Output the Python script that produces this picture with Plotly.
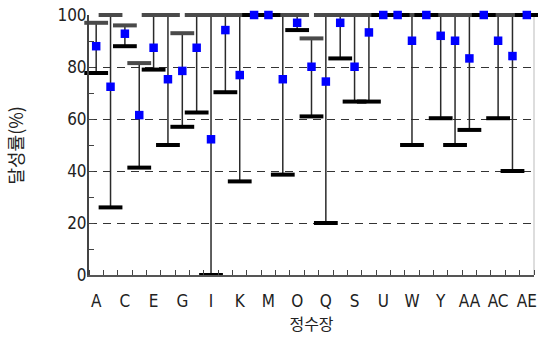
import plotly.graph_objects as go

categories = ['A','B','C','D','E','F','G','H','I','J','K','L','M','N','O','P','Q','R',
              'S','T','U','V','W','X','Y','Z','AA','AB','AC','AD','AE']
max_vals = [97, 100, 96, 81.5, 100, 100, 93, 100, 100, 100, 100, 100, 100, 100, 100, 91,
            100, 100, 100, 100, 100, 100, 100, 100, 100, 100, 100, 100, 100, 100, 100]
min_vals = [77.7, 26, 88, 41.3, 79, 50, 57, 62.5, 0, 70.3, 36, 100, 100, 38.6, 94.2, 61,
            20, 83.3, 66.7, 66.7, 100, 100, 50, 100, 60.3, 50, 55.8, 100, 60.3, 40, 100]
mean_vals = [88, 72.4, 92.8, 61.5, 87.4, 75.3, 78.5, 87.4, 52.2, 94.2, 76.9, 100, 100, 75.3,
             97, 80.1, 74.4, 97, 80.1, 93.3, 100, 100, 90.1, 100, 92, 90.1, 83.3, 100, 90.1,
             84.2, 100]
y_ticks = [0, 20, 40, 60, 80, 100]

xs = list(range(len(categories)))

stem_x, stem_y = [], []
for i, lo, hi in zip(xs, min_vals, max_vals):
    stem_x += [i, i, None]
    stem_y += [lo, hi, None]

fig = go.Figure()
fig.add_trace(go.Scatter(x=stem_x, y=stem_y, mode='lines',
                         line=dict(color='#2a2a2a', width=1.5),
                         hoverinfo='skip', showlegend=False, cliponaxis=False))
fig.add_trace(go.Scatter(x=xs, y=max_vals, mode='markers',
                         marker=dict(symbol='line-ew', size=17,
                                     line=dict(color='#4a4a4a', width=4)),
                         showlegend=False, cliponaxis=False))
fig.add_trace(go.Scatter(x=xs, y=min_vals, mode='markers',
                         marker=dict(symbol='line-ew', size=17,
                                     line=dict(color='#000000', width=4)),
                         showlegend=False, cliponaxis=False))
fig.add_trace(go.Scatter(x=xs, y=mean_vals, mode='markers',
                         marker=dict(symbol='square', size=8.5, color='#0000ff',
                                     line=dict(width=0)),
                         showlegend=False, cliponaxis=False))

tick_font = dict(family='Liberation Sans Narrow, DejaVu Sans Condensed, Liberation Sans, Arial',
                 size=17, color='#222')

fig.update_layout(
    width=538, height=338,
    margin=dict(l=89, r=1, t=15, b=63),
    paper_bgcolor='white', plot_bgcolor='white',
    xaxis=dict(
        range=[-0.5, len(categories) - 0.5],
        tickvals=xs[::2], ticktext=categories[::2],
        ticks='', showgrid=False, zeroline=False,
        showline=True, linecolor='#555', linewidth=2,
        minor=dict(ticks='inside', tick0=0.5, dtick=1, ticklen=5,
                   tickcolor='#444', tickwidth=1, showgrid=False),
        tickfont=tick_font, ticklabelstandoff=10, ticklabeloverflow='allow',
        title=dict(text='정수장', font=dict(family='Noto Sans CJK KR', size=16, color='#222'),
                   standoff=3),
    ),
    yaxis=dict(
        range=[0, 100], tickvals=y_ticks,
        ticks='inside', ticklen=5, tickcolor='#444', tickwidth=1,
        minor=dict(ticks='inside', dtick=10, ticklen=5, tickcolor='#444',
                   tickwidth=1, showgrid=False),
        showgrid=True, gridcolor='#333', gridwidth=1, griddash='8px,6px',
        zeroline=False, showline=True, linecolor='#444', linewidth=2,
        tickfont=tick_font, ticklabelstandoff=-3, ticklabeloverflow='allow',
    ),
    annotations=[dict(text='달성률(%)', xref='paper', yref='paper', x=-74 / 448, y=0.5,
                      xanchor='center', yanchor='middle', textangle=-90, showarrow=False,
                      font=dict(family='Noto Sans CJK KR', size=18, color='#222'))],
    shapes=[dict(type='line', xref='paper', yref='paper', x0=1, x1=1, y0=0, y1=1,
                 line=dict(color='#bbbbbb', width=1), layer='below')],
)

fig.write_html('out.html', config={'displayModeBar': False},
               post_script="document.body.style.margin='0';")
